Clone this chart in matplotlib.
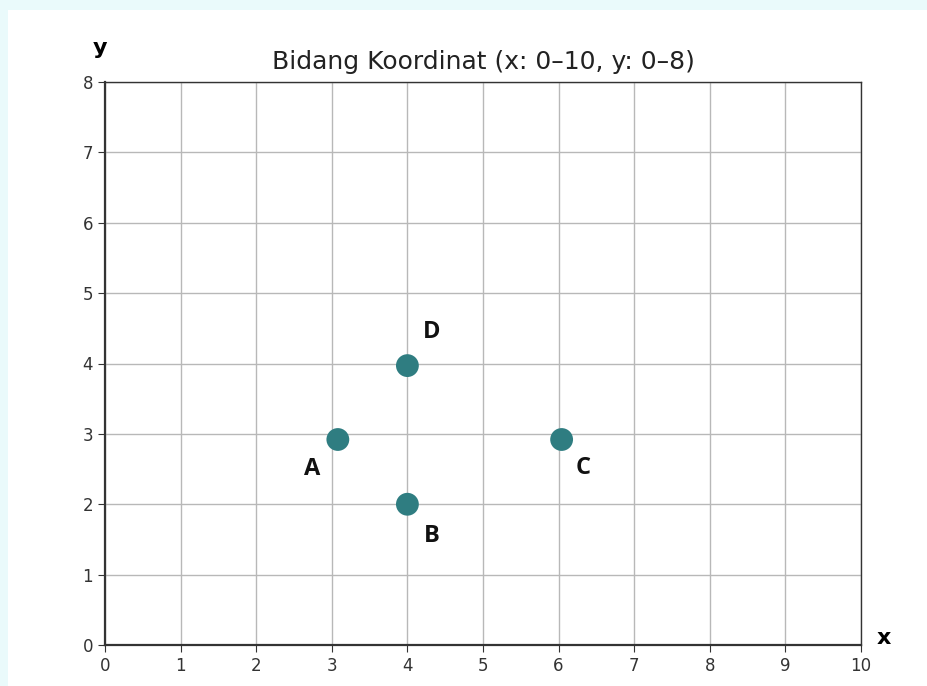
import matplotlib
matplotlib.use("Agg")
import matplotlib.pyplot as plt
from matplotlib.patches import Rectangle

names = ["A", "B", "C", "D"]
xs = [3.08, 4.0, 6.04, 4.0]
ys = [2.92, 2.0, 2.92, 3.97]
label_x = [2.74, 4.32, 6.33, 4.32]
label_y = [2.5, 1.55, 2.52, 4.45]
xticks = list(range(0, 11))
yticks = list(range(0, 9))

fig = plt.figure(figsize=(9.27, 6.86), dpi=100)
fig.patch.set_facecolor("#eafafb")
fig.patches.append(Rectangle((8/927, 0), 1, 1 - 10/686, transform=fig.transFigure,
                             facecolor="white", edgecolor="none", zorder=-10))
ax = fig.add_axes([105/927, 1 - 645/686, (861 - 105)/927, (645 - 82)/686])
ax.set_xlim(0, 10)
ax.set_ylim(0, 8)
ax.set_xticks(xticks)
ax.set_yticks(yticks)
ax.grid(True, color="#b8b8b8", linewidth=1)
ax.set_axisbelow(True)
for s in ax.spines.values():
    s.set_linewidth(1.0)
    s.set_color("#333333")
ax.spines["left"].set_linewidth(1.6)
ax.spines["bottom"].set_linewidth(1.6)
ax.tick_params(labelsize=12, colors="#333333", length=5)

ax.scatter(xs, ys, s=270, color="#2f7d81", zorder=3, edgecolors="none")
for n, lx, ly in zip(names, label_x, label_y):
    ax.text(lx, ly, n, fontsize=17, fontweight="bold", family="Open Sans",
            ha="center", va="center", color="#111111")

ax.set_title("Bidang Koordinat (x: 0\u201310, y: 0\u20138)", fontsize=18, pad=9, color="#222222")
fig.text(100/927, 1 - 48/686, "y", fontsize=16, fontweight="bold", ha="center", va="center")
fig.text(884/927, 1 - 638/686, "x", fontsize=16, fontweight="bold", ha="center", va="center")

fig.savefig("out.png", dpi=100, facecolor=fig.get_facecolor())
